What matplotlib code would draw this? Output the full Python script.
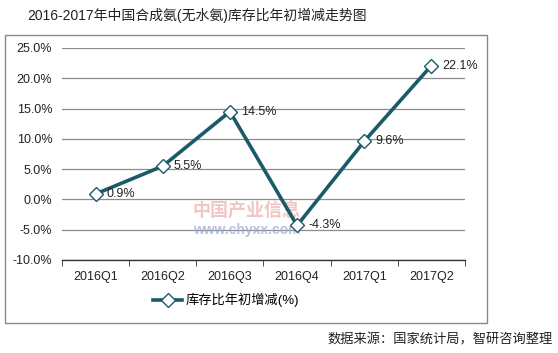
import matplotlib
matplotlib.use('Agg')
import matplotlib.pyplot as plt
from matplotlib.patches import Rectangle
from matplotlib.ticker import FuncFormatter, FixedLocator

plt.rcParams['font.family'] = ['Liberation Sans', 'Noto Sans CJK SC', 'DejaVu Sans']

quarters = ['2016Q1', '2016Q2', '2016Q3', '2016Q4', '2017Q1', '2017Q2']
change = [0.9, 5.5, 14.5, -4.3, 9.6, 22.1]
series_name = '库存比年初增减(%)'
title = '2016-2017年中国合成氨(无水氨)库存比年初增减走势图'
source = '数据来源：国家统计局，智研咨询整理'

line_color = '#1b5a68'

fig = plt.figure(figsize=(5.58, 3.53), dpi=100)
fig.patch.set_facecolor('white')

# outer frame
fig.add_artist(Rectangle((5 / 558, 1 - 323 / 353), 482 / 558, 288 / 353,
                         transform=fig.transFigure, fill=False,
                         edgecolor='#888888', linewidth=1))

ax = fig.add_axes([62 / 558, 1 - 260 / 353, 403 / 558, 212 / 353])
x = list(range(len(quarters)))

ax.set_xlim(-0.5, len(quarters) - 0.5)
ax.set_ylim(-10, 25)
ax.set_yticks([-10, -5, 0, 5, 10, 15, 20, 25])
ax.yaxis.set_major_formatter(FuncFormatter(lambda v, p: f'{v:.1f}%'))
ax.grid(axis='y', color='#8c8c8c', linewidth=0.9)
ax.set_axisbelow(True)
for s in ['top', 'right', 'left']:
    ax.spines[s].set_visible(False)
ax.spines['bottom'].set_color('#333333')
ax.spines['bottom'].set_linewidth(1)

ax.set_xticks(x)
ax.set_xticklabels(quarters)
ax.xaxis.set_minor_locator(FixedLocator([i - 0.5 for i in range(len(quarters) + 1)]))
ax.tick_params(axis='x', which='major', length=0, pad=8, labelsize=9, colors='#222222')
ax.tick_params(axis='x', which='minor', length=4, color='#333333')
ax.tick_params(axis='y', length=0, pad=7, labelsize=9, colors='#222222')

# faint watermark
ax.text(2.25, -2.0, '中国产业信息', fontsize=13, color='#e8a0a0', alpha=0.6,
        ha='center', va='center', fontweight='bold', zorder=1)
ax.text(2.25, -5.0, 'www.chyxx.com', fontsize=10, color='#9aa6d8', alpha=0.7,
        ha='center', va='center', fontweight='bold', zorder=1)

ln, = ax.plot(x, change, color=line_color, linewidth=2.6, marker='D',
              markersize=7, markerfacecolor='white', markeredgecolor=line_color,
              markeredgewidth=1, label=series_name, zorder=3, clip_on=False)

for xi, yi in zip(x, change):
    ax.annotate(f'{yi}%', (xi, yi), xytext=(8, 0), textcoords='offset points',
                ha='left', va='center', fontsize=9, color='#222222', zorder=4)

fig.legend(handles=[ln], loc='center', bbox_to_anchor=(226 / 558, 1 - 300 / 353),
           frameon=False, fontsize=9.5, handlelength=2.2, handletextpad=0.2)

fig.text(197 / 558, 1 - 15 / 353, title, ha='center', va='center', fontsize=10,
         color='#222222')
fig.text(553 / 558, 1 - 340 / 353, source, ha='right', va='center', fontsize=9.5,
         color='#222222')

fig.savefig('out.png', dpi=100)
